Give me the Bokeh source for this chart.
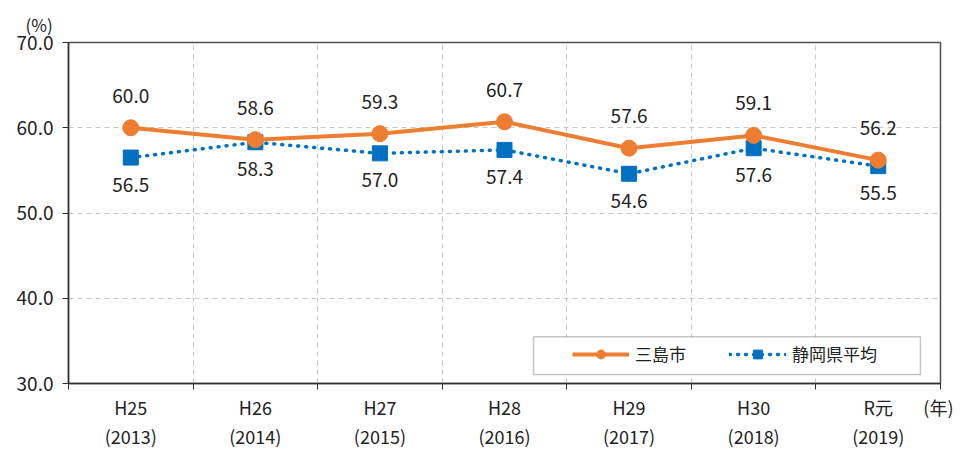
from bokeh.plotting import figure
from bokeh.models import (FixedTicker, NumeralTickFormatter, Legend, LegendItem,
                          Title, BoxAnnotation, ColumnDataSource, Range1d)
from bokeh.core.properties import value
from bokeh.embed import file_html
from bokeh.resources import INLINE

# ---- data ----
categories = ["H25\n(2013)", "H26\n(2014)", "H27\n(2015)", "H28\n(2016)",
              "H29\n(2017)", "H30\n(2018)", "R元\n(2019)"]
mishima = [60.0, 58.6, 59.3, 60.7, 57.6, 59.1, 56.2]
shizuoka = [56.5, 58.3, 57.0, 57.4, 54.6, 57.6, 55.5]
series_names = ["三島市", "静岡県平均"]
y_ticks = [30, 40, 50, 60, 70]
x_unit_label = "(年)"
y_unit_label = "(%)"

FONT = "Noto Sans CJK JP"
ORANGE = "#ED7D31"
BLUE = "#0070C0"

n = len(categories)
xs = [i + 0.5 for i in range(n)]

p = figure(width=953, height=452, output_backend="svg", toolbar_location=None,
           x_range=Range1d(0, n), y_range=Range1d(30, 70),
           min_border_left=68, min_border_right=13, min_border_top=42, min_border_bottom=60)
p.background_fill_color = "white"
p.border_fill_color = "white"
p.outline_line_color = "#505050"
p.outline_line_width = 1.5

# x axis: labels at centres, ticks at boundaries, unit label at the right end
overrides = {x: c for x, c in zip(xs, categories)}
overrides[float(n)] = x_unit_label
xt = FixedTicker(ticks=xs + [float(n)], minor_ticks=list(range(n + 1)))
p.xaxis.ticker = xt
p.xaxis.major_label_overrides = overrides
p.xaxis.major_tick_out = 0
p.xaxis.major_tick_in = 0
p.xaxis.minor_tick_out = 6
p.xaxis.minor_tick_in = 0
p.xaxis.minor_tick_line_color = "#303030"
p.xaxis.axis_line_color = "#303030"
p.xaxis.axis_line_width = 1.5
p.xaxis.major_label_text_font = FONT
p.xaxis.major_label_text_font_size = "18px"
p.xaxis.major_label_text_color = "#222222"
p.xaxis.major_label_text_line_height = 1.15
p.xaxis.major_label_standoff = 4

p.yaxis.ticker = FixedTicker(ticks=y_ticks)
p.yaxis.formatter = NumeralTickFormatter(format="0.0")
p.yaxis.major_tick_out = 6
p.yaxis.major_tick_in = 0
p.yaxis.minor_tick_line_color = None
p.yaxis.major_tick_line_color = "#303030"
p.yaxis.axis_line_color = "#303030"
p.yaxis.axis_line_width = 1.5
p.yaxis.major_label_text_font = FONT
p.yaxis.major_label_text_font_size = "19px"
p.yaxis.major_label_text_color = "#222222"
p.yaxis.major_label_standoff = 9

p.xgrid.ticker = FixedTicker(ticks=list(range(1, n)))
p.xgrid.grid_line_color = "#C8C8C8"
p.xgrid.grid_line_dash = "5 4"
p.ygrid.ticker = FixedTicker(ticks=y_ticks[1:-1])
p.ygrid.grid_line_color = "#C8C8C8"
p.ygrid.grid_line_dash = "5 4"

# legend box
box = BoxAnnotation(left=3.733, right=6.839, bottom=31.05, top=35.47,
                    fill_color="white", fill_alpha=1.0,
                    line_color="#404040", line_width=1.5, level="overlay")
p.add_layout(box)

src = ColumnDataSource(dict(x=xs, m=mishima, s=shizuoka,
                            mt=[f"{v:.1f}" for v in mishima],
                            st=[f"{v:.1f}" for v in shizuoka]))

l2 = p.line("x", "s", source=src, line_color=BLUE, line_width=3.5,
            line_dash="1 7", line_cap="round")
m2 = p.scatter("x", "s", source=src, marker="square", size=15,
               fill_color=BLUE, line_color=BLUE)
l1 = p.line("x", "m", source=src, line_color=ORANGE, line_width=4)
m1 = p.scatter("x", "m", source=src, marker="circle", size=16,
               fill_color=ORANGE, line_color=ORANGE)

p.text("x", "m", text="mt", source=src, y_offset=-32, text_align="center",
       text_baseline="middle", text_font=value(FONT), text_font_size="19px",
       text_color="#222222")
p.text("x", "s", text="st", source=src, y_offset=27, text_align="center",
       text_baseline="middle", text_font=value(FONT), text_font_size="19px",
       text_color="#222222")

legend = Legend(items=[LegendItem(label=series_names[0], renderers=[l1, m1]),
                       LegendItem(label=series_names[1], renderers=[l2, m2])],
                orientation="horizontal", location=(496, 9),
                padding=8, margin=0, spacing=43, glyph_width=57, glyph_height=22,
                label_standoff=6, label_text_font=FONT, label_text_font_size="17px",
                label_text_color="#222222", border_line_alpha=0,
                background_fill_alpha=0, level="overlay")
p.add_layout(legend)

p.add_layout(Title(text=y_unit_label, align="left", offset=-43, standoff=12,
                   text_font=FONT, text_font_size="17px", text_font_style="normal",
                   text_color="#222222"), "above")

open("out.html", "w").write(file_html(p, INLINE))
